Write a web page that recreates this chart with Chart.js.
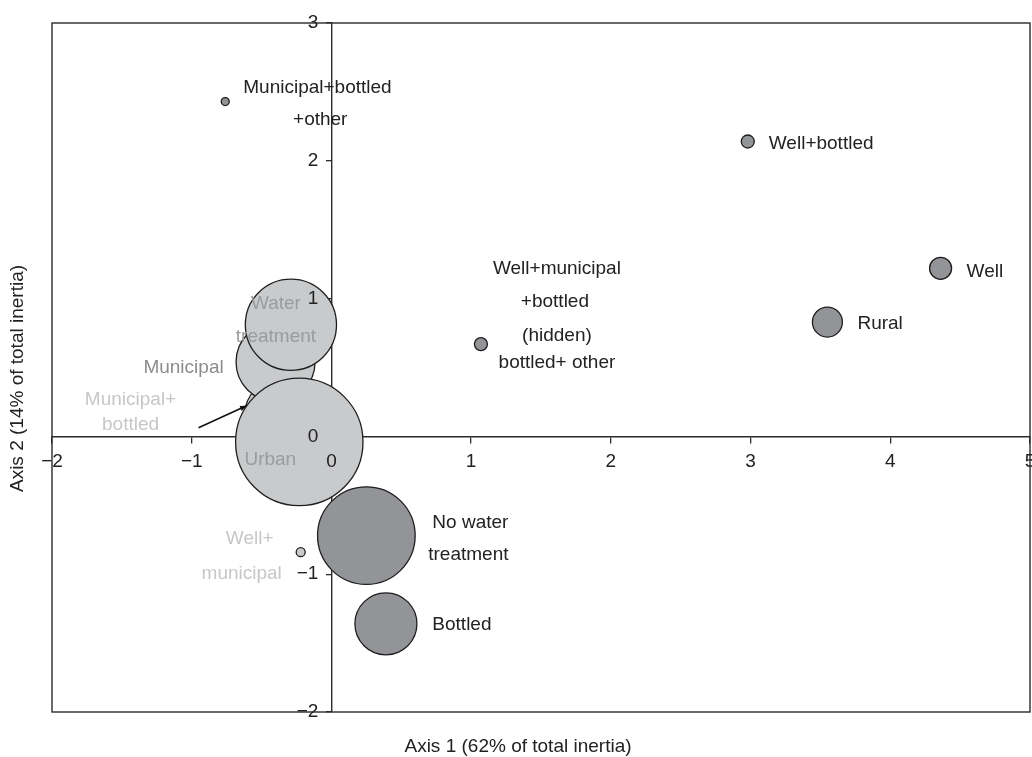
<!DOCTYPE html>
<html>
<head>
<meta charset="utf-8">
<script src="https://cdn.jsdelivr.net/npm/chart.js@4/dist/chart.umd.min.js"></script>
<style>
  html, body { margin: 0; padding: 0; background: #fff; }
  #wrap { width: 1032px; height: 757px; }
</style>
</head>
<body>
<div id="wrap"><canvas id="c" width="1032" height="757"></canvas></div>
<script>
// Correspondence analysis map: water source / treatment vs area
const categories = [
  'Municipal+bottled', 'Municipal', 'Water treatment', 'Urban',
  'No water treatment', 'Bottled', 'Well+municipal', 'Municipal+bottled+other',
  'Well+municipal+bottled+other', 'Well+bottled', 'Rural', 'Well'
];
const axis1Scores = [-0.35, -0.40, -0.29, -0.23, 0.25, 0.39, -0.22, -0.76, 1.07, 2.98, 3.55, 4.36];
const axis2Scores = [0.15, 0.54, 0.81, -0.04, -0.72, -1.36, -0.84, 2.43, 0.67, 2.14, 0.83, 1.22];
const bubbleRadius = [38, 39.5, 45.6, 63.7, 48.8, 31, 4.5, 4, 6.5, 6.5, 15, 11];
const side = ['urban', 'urban', 'urban', 'urban', 'rural', 'rural', 'urban', 'rural', 'rural', 'rural', 'rural', 'rural'];
const axis1Range = [-2, 5];
const axis2Range = [-2, 3];
const axis1Title = 'Axis 1 (62% of total inertia)';
const axis2Title = 'Axis 2 (14% of total inertia)';

const FONT = '"Liberation Sans", Arial, Helvetica, sans-serif';
const fillBySide = { urban: '#c9cacc', rural: '#939497' };

// Text placed around each bubble: [line, dx, dy, align, colour]
const labelLayout = {
  'Municipal+bottled': [['Municipal+', -152, -16, 'center', '#c6c7c9'], ['bottled', -152, 9, 'center', '#c6c7c9']],
  'Municipal': [['Municipal', -92, 6, 'center', '#8b8c8e']],
  'Water treatment': [['Water', -15, -21, 'center', '#9a9b9d'], ['treatment', -15, 12, 'center', '#9a9b9d']],
  'Urban': [['Urban', -29, 18, 'center', '#9a9b9d']],
  'No water treatment': [['No water', 104, -13, 'center', '#222'], ['treatment', 102, 19, 'center', '#222']],
  'Bottled': [['Bottled', 76, 1, 'center', '#222']],
  'Well+municipal': [['Well+', -51, -13, 'center', '#c6c7c9'], ['municipal', -59, 22, 'center', '#c6c7c9']],
  'Municipal+bottled+other': [['Municipal+bottled', 18, -14, 'left', '#222'], ['+other', 95, 18, 'center', '#222']],
  'Well+municipal+bottled+other': [['Well+municipal', 76, -75, 'center', '#222'], ['+bottled', 74, -42, 'center', '#222'],
                                   ['(hidden)', 76, -8, 'center', '#222'], ['bottled+ other', 76, 19, 'center', '#222']],
  'Well+bottled': [['Well+bottled', 21, 2, 'left', '#222']],
  'Rural': [['Rural', 30, 2, 'left', '#222']],
  'Well': [['Well', 26, 3, 'left', '#222']]
};

const points = categories.map((c, i) => ({ x: axis1Scores[i], y: axis2Scores[i], r: bubbleRadius[i] }));

const minus = v => String(v).replace('-', '\u2212');

const framePlugin = {
  id: 'frame',
  beforeDatasetsDraw(chart) {
    const { ctx, chartArea: a } = chart;
    ctx.save();
    ctx.strokeStyle = '#2b2b2b';
    ctx.lineWidth = 1.4;
    ctx.strokeRect(a.left, a.top, a.right - a.left, a.bottom - a.top);
    ctx.restore();
  },
  afterDraw(chart) {
    const { ctx, chartArea: a } = chart;
    ctx.save();
    ctx.fillStyle = '#222';
    ctx.font = '19px ' + FONT;
    ctx.textAlign = 'center';
    ctx.textBaseline = 'middle';
    ctx.fillText(axis1Title, 518, a.bottom + 35);
    ctx.translate(18, chart.height / 2);
    ctx.rotate(-Math.PI / 2);
    ctx.fillText(axis2Title, 0, 0);
    ctx.restore();
  }
};

const labelPlugin = {
  id: 'bubbleLabels',
  afterDatasetsDraw(chart) {
    const { ctx } = chart;
    const meta = chart.getDatasetMeta(0);
    const xs = chart.scales.x, ys = chart.scales.y;
    ctx.save();
    ctx.font = '19px ' + FONT;
    ctx.textBaseline = 'middle';
    categories.forEach((c, i) => {
      const el = meta.data[i];
      (labelLayout[c] || []).forEach(([txt, dx, dy, align, col]) => {
        ctx.fillStyle = col;
        ctx.textAlign = align;
        ctx.fillText(txt, el.x + dx, el.y + dy);
      });
    });
    // axis 2 tick labels, set back from the vertical axis line
    const axisX = xs.getPixelForValue(0);
    ctx.fillStyle = '#222';
    ctx.textAlign = 'right';
    ys.ticks.forEach(t => {
      ctx.fillText(minus(t.value), axisX - 13, ys.getPixelForValue(t.value));
    });
    // pointer from the label to the mostly hidden Municipal+bottled bubble
    const mb = meta.data[categories.indexOf('Municipal+bottled')];
    const x0 = mb.x - 84, y0 = mb.y + 12, x1 = mb.x - 36, y1 = mb.y - 10;
    ctx.strokeStyle = '#111';
    ctx.fillStyle = '#111';
    ctx.lineWidth = 1.5;
    ctx.beginPath(); ctx.moveTo(x0, y0); ctx.lineTo(x1, y1); ctx.stroke();
    const ang = Math.atan2(y1 - y0, x1 - x0);
    ctx.beginPath();
    ctx.moveTo(x1, y1);
    ctx.lineTo(x1 - 7 * Math.cos(ang - 0.4), y1 - 7 * Math.sin(ang - 0.4));
    ctx.lineTo(x1 - 7 * Math.cos(ang + 0.4), y1 - 7 * Math.sin(ang + 0.4));
    ctx.closePath(); ctx.fill();
    ctx.restore();
  }
};

new Chart(document.getElementById('c'), {
  type: 'bubble',
  data: {
    datasets: [{
      label: 'Categories',
      data: points,
      backgroundColor: side.map(s => fillBySide[s]),
      borderColor: '#1e1e1e',
      borderWidth: 1.3,
      hoverRadius: 0
    }]
  },
  options: {
    responsive: false,
    devicePixelRatio: 1,
    animation: false,
    events: [],
    layout: { autoPadding: false, padding: { left: 52, top: 23, right: 2, bottom: 45 } },
    plugins: { legend: { display: false }, tooltip: { enabled: false } },
    scales: {
      x: {
        type: 'linear',
        min: axis1Range[0], max: axis1Range[1],
        position: { y: 0 },
        afterFit(s) { s.paddingLeft = 0; s.paddingRight = 0; },
        grid: { drawOnChartArea: false, drawTicks: true, tickLength: 6, color: '#2b2b2b', lineWidth: 1.3 },
        border: { display: true, color: '#2b2b2b', width: 1.4 },
        ticks: { stepSize: 1, padding: 8, z: 1, color: '#222', font: { family: FONT, size: 19 }, callback: v => minus(v), maxRotation: 0, autoSkip: false }
      },
      y: {
        type: 'linear',
        min: axis2Range[0], max: axis2Range[1],
        position: { x: 0 },
        afterFit(s) { s.paddingTop = 0; s.paddingBottom = 0; },
        grid: { drawOnChartArea: false, drawTicks: true, tickLength: 5, color: '#2b2b2b', lineWidth: 1.3 },
        border: { display: true, color: '#2b2b2b', width: 1.4 },
        ticks: { display: false, stepSize: 1, autoSkip: false }
      }
    }
  },
  plugins: [framePlugin, labelPlugin]
});
</script>
</body>
</html>
